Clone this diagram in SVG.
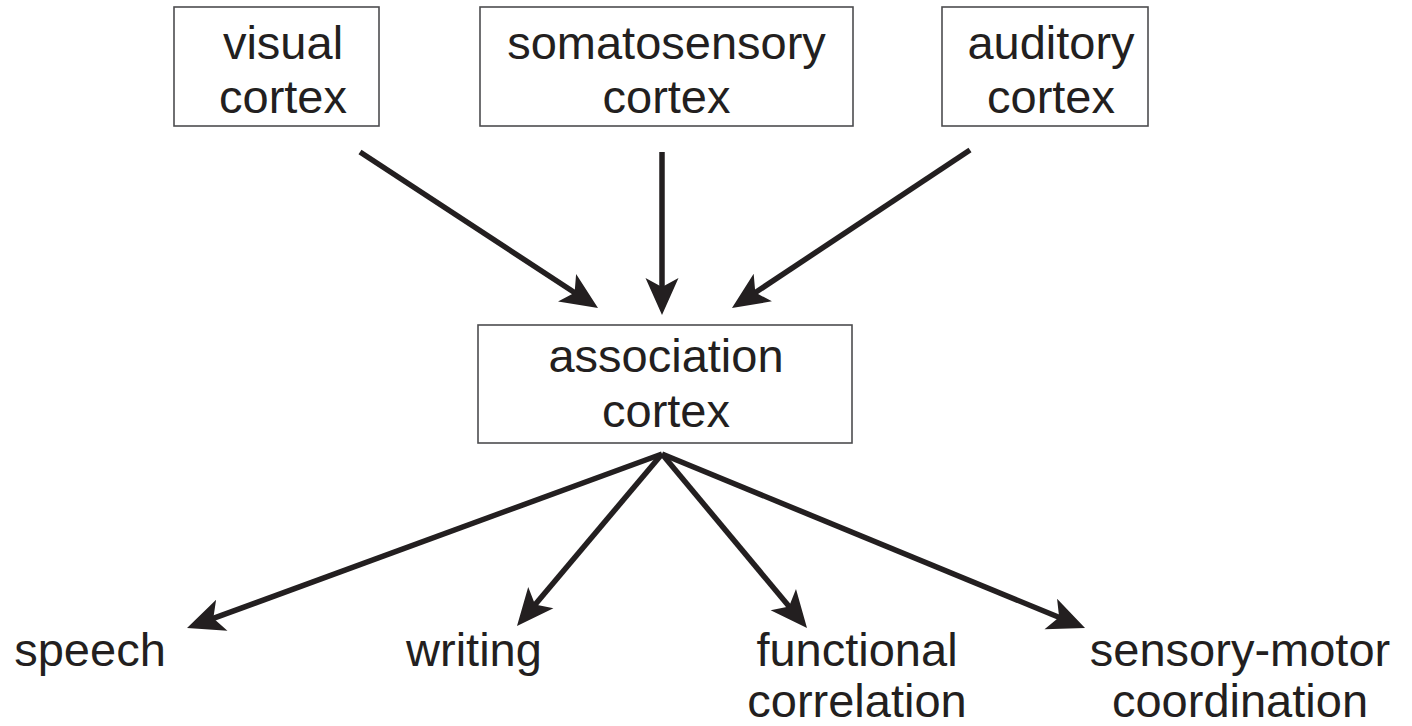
<svg xmlns="http://www.w3.org/2000/svg" width="1412" height="726" viewBox="0 0 1412 726">
  <style>
    .box { fill: #ffffff; stroke: #4d4d4f; stroke-width: 1.6; }
    .lbl { font-family: "Liberation Sans", Arial, Helvetica, sans-serif; font-size: 47px; fill: #231f20; text-anchor: middle; }
    .arrow { stroke: #231f20; stroke-width: 5.5; fill: none; marker-end: url(#head); }
  </style>
  <defs>
    <!-- swept arrowhead; tip sits 25px past the end of the line -->
    <marker id="head" markerUnits="userSpaceOnUse" orient="auto" refX="0" refY="0" markerWidth="60" markerHeight="40" viewBox="-16 -20 46 40" overflow="visible">
      <path d="M25,0 L-12,-16.5 L-3,0 L-12,16.5 Z" fill="#231f20"/>
    </marker>
  </defs>
  <rect width="1412" height="726" fill="#ffffff"/>

  <g id="visual-cortex">
    <rect class="box" x="174" y="7" width="205" height="119"/>
    <text class="lbl" x="283" y="59">visual</text>
    <text class="lbl" x="283" y="113">cortex</text>
  </g>
  <g id="somatosensory-cortex">
    <rect class="box" x="480" y="7" width="373" height="119"/>
    <text class="lbl" x="666.5" y="59">somatosensory</text>
    <text class="lbl" x="666.5" y="113">cortex</text>
  </g>
  <g id="auditory-cortex">
    <rect class="box" x="942" y="7" width="206" height="119"/>
    <text class="lbl" x="1051" y="59">auditory</text>
    <text class="lbl" x="1051" y="113">cortex</text>
  </g>
  <g id="association-cortex">
    <rect class="box" x="478" y="325" width="374" height="118"/>
    <text class="lbl" x="666" y="372">association</text>
    <text class="lbl" x="666" y="427">cortex</text>
  </g>
  <g id="speech">
    <text class="lbl" x="90" y="666">speech</text>
  </g>
  <g id="writing">
    <text class="lbl" x="474" y="666">writing</text>
  </g>
  <g id="functional-correlation">
    <text class="lbl" x="857" y="666">functional</text>
    <text class="lbl" x="857" y="717">correlation</text>
  </g>
  <g id="sensory-motor-coordination">
    <text class="lbl" x="1240" y="666">sensory-motor</text>
    <text class="lbl" x="1240" y="717">coordination</text>
  </g>

  <g id="connectors">
    <line class="arrow" x1="360" y1="152" x2="577.1" y2="294.3"/>
    <line class="arrow" x1="662" y1="152" x2="662" y2="290"/>
    <line class="arrow" x1="970" y1="150" x2="752.8" y2="294.2"/>
    <line class="arrow" x1="662" y1="454" x2="210.5" y2="619.4"/>
    <line class="arrow" x1="662" y1="454" x2="533.1" y2="606.9"/>
    <line class="arrow" x1="662" y1="454" x2="791" y2="608.8"/>
    <line class="arrow" x1="662" y1="454" x2="1061.9" y2="618.5"/>
  </g>
</svg>
